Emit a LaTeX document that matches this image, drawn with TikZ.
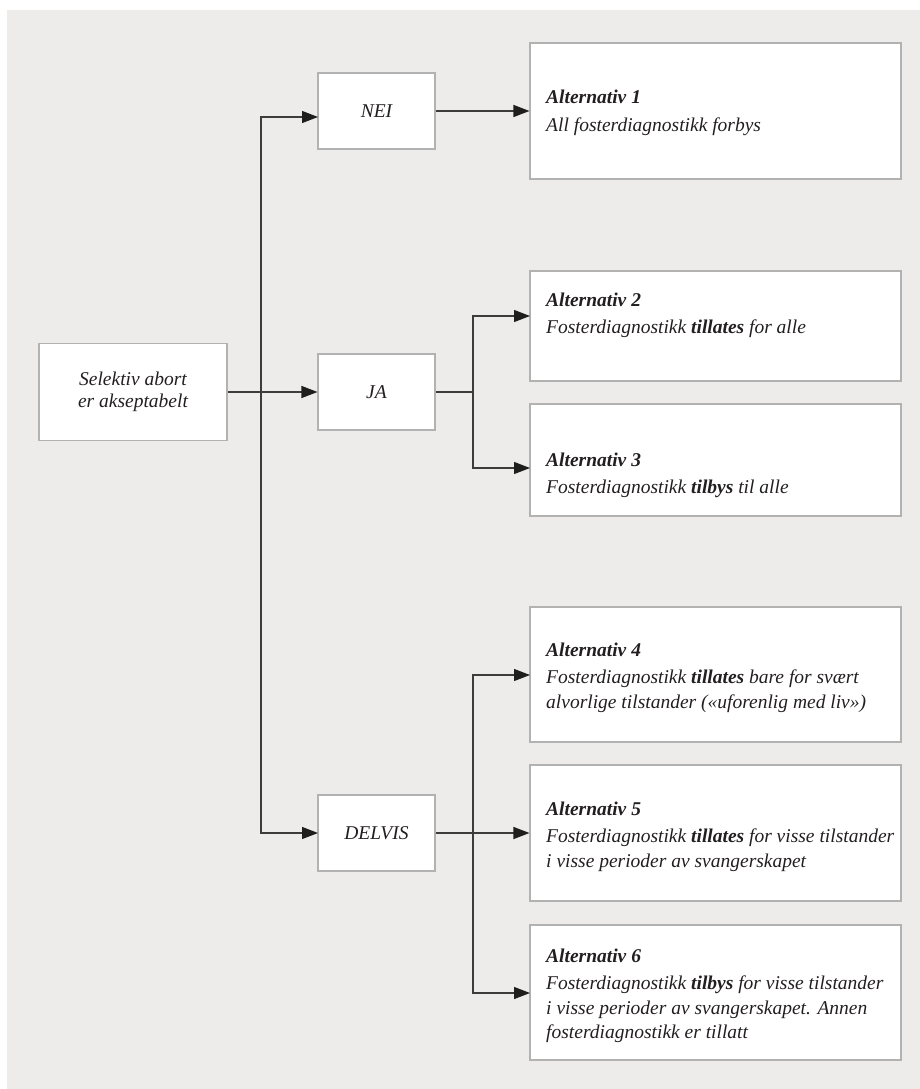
\documentclass[tikz,border=0pt]{standalone}
\usepackage{fontspec}
\setmainfont{Liberation Serif}
\usetikzlibrary{arrows.meta}
\definecolor{bgc}{HTML}{EDECEA}
\definecolor{boxline}{HTML}{B2B2B2}
\definecolor{conn}{HTML}{3C3C3C}
\definecolor{tipc}{HTML}{1E1E1E}
\definecolor{txt}{HTML}{231F20}
\tikzset{
  box/.style={draw=boxline, line width=1.1pt, fill=white, inner sep=0pt, minimum width=#1},
  smallbox/.style={box=117pt, minimum height=76pt, font=\fontsize{19.5}{22}\selectfont\itshape, text=txt, align=center},
  altbox/.style={box=371pt},
  alttext/.style={anchor=base west, inner sep=0pt, text=txt, font=\fontsize{19.5}{24.5}\selectfont\itshape},
  conline/.style={draw=conn, line width=1.2pt},
  arr/.style={conline, -{Triangle[length=16pt,width=12pt,color=tipc]}},
}
\newcommand{\alttxt}[2]{\vtop{\baselineskip=24.5pt\hbox{\bfseries #1}\vskip3pt #2}}
\begin{document}
\begin{tikzpicture}[x=1pt,y=-1pt]
\useasboundingbox (0,0) rectangle (920,1089);
\fill[bgc] (7,10) rectangle (920,1089);

% left column
\node[box=188pt, minimum height=97pt, font=\fontsize{19.5}{22}\selectfont\itshape, text=txt, align=center] (sel) at (133,392) {Selektiv abort\\er akseptabelt};

% middle column
\node[smallbox] (nei) at (376.5,111) {NEI};
\node[smallbox] (ja) at (376.5,392) {JA};
\node[smallbox] (delvis) at (376.5,833) {DELVIS};

% right column boxes
\node[altbox, minimum height=136pt] (alt1) at (715.5,111) {};
\node[altbox, minimum height=110pt] (alt2) at (715.5,326) {};
\node[altbox, minimum height=112pt] (alt3) at (715.5,460) {};
\node[altbox, minimum height=135pt] (alt4) at (715.5,674.5) {};
\node[altbox, minimum height=136pt] (alt5) at (715.5,833) {};
\node[altbox, minimum height=135pt] (alt6) at (715.5,992.5) {};

% texts
\node[alttext] (t1) at (546,104) {\alttxt{Alternativ 1}{\hbox{All fosterdiagnostikk forbys}}};
\node[alttext] (t2) at (546,306) {\alttxt{Alternativ 2}{\hbox{Fosterdiagnostikk \textbf{tillates} for alle}}};
\node[alttext] (t3) at (546,466) {\alttxt{Alternativ 3}{\hbox{Fosterdiagnostikk \textbf{tilbys} til alle}}};
\node[alttext] (t4) at (546,656) {\alttxt{Alternativ 4}{\hbox{Fosterdiagnostikk \textbf{tillates} bare for svært}\hbox{alvorlige tilstander («uforenlig med liv»)}}};
\node[alttext] (t5) at (546,815) {\alttxt{Alternativ 5}{\hbox{Fosterdiagnostikk \textbf{tillates} for visse tilstander}\hbox{i visse perioder av svangerskapet}}};
\node[alttext] (t6) at (546,962) {\alttxt{Alternativ 6}{\hbox{Fosterdiagnostikk \textbf{tilbys} for visse tilstander}\hbox{i visse perioder av svangerskapet. Annen}\hbox{fosterdiagnostikk er tillatt}}};

% junction coordinates
\coordinate (j1) at (261,392);
\coordinate (neiin) at (318,117);
\coordinate (delin) at (318,833);
\coordinate (j2) at (473,392);
\coordinate (a2in) at (530,316);
\coordinate (a3in) at (530,468);
\coordinate (j3) at (473,833);
\coordinate (a4in) at (530,675);
\coordinate (a6in) at (530,993);

% connectors
\draw[arr] (sel.east) -- (ja.west);
\draw[arr] (j1) |- (neiin);
\draw[arr] (j1) |- (delin);
\draw[arr] (nei.east) -- (nei.east -| alt1.west);
\draw[conline] (ja.east) -- (j2);
\draw[arr] (j2) |- (a2in);
\draw[arr] (j2) |- (a3in);
\draw[arr] (delvis.east) -- (alt5.west);
\draw[arr] (j3) |- (a4in);
\draw[arr] (j3) |- (a6in);
\end{tikzpicture}
\end{document}
